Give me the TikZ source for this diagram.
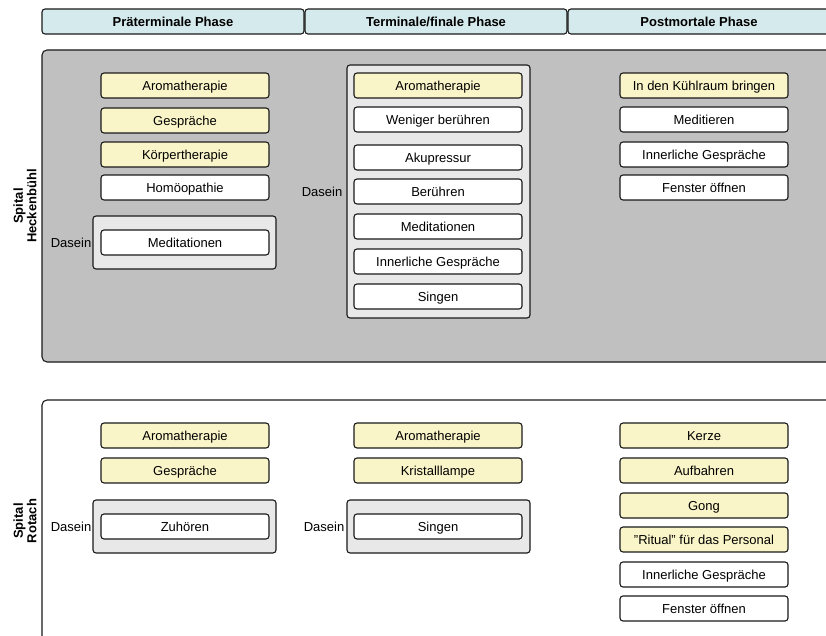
\documentclass[tikz,border=0pt]{standalone}
\usepackage{fontspec}
\setmainfont{Liberation Sans}
\definecolor{hdrfill}{HTML}{D5EAEC}
\definecolor{lanegray}{HTML}{C0C0C0}
\definecolor{grpfill}{HTML}{E8E8E8}
\definecolor{yel}{HTML}{FAF5C8}
\definecolor{edge}{HTML}{1A1A1A}
\tikzset{
  x=1pt,y=-1pt,
  every node/.style={font=\fontsize{13}{15}\selectfont},
  hdr/.style={draw=edge, line width=1.1pt, fill=hdrfill, rounded corners=3pt, minimum width=262pt, minimum height=25pt, inner sep=0pt, text height=11pt, text depth=1.7pt, font=\fontsize{13}{15}\selectfont\bfseries},
  lane/.style={draw=edge, line width=1.1pt, rounded corners=5pt},
  item/.style={draw=edge, line width=1.1pt, fill=white, rounded corners=3pt, minimum width=168pt, minimum height=25pt, inner sep=0pt, text height=11pt, text depth=1.7pt},
  yitem/.style={item, fill=yel},
  grp/.style={draw=edge, line width=1.1pt, fill=grpfill, rounded corners=3pt, inner sep=0pt},
  lbl/.style={inner sep=1pt, anchor=east, text height=11pt, text depth=1.7pt},
  lanelbl/.style={rotate=90, align=center, font=\fontsize{13}{13.5}\selectfont\bfseries}
}
\begin{document}
\begin{tikzpicture}
\useasboundingbox (0,0) rectangle (826,636);
\clip (0,0) rectangle (826,636);
% headers
\node[hdr] (h1) at (173,21.5) {Präterminale Phase};
\node[hdr] (h2) at (436,21.5) {Terminale/finale Phase};
\node[hdr] (h3) at (699,21.5) {Postmortale Phase};
% lanes
\draw[lane, fill=lanegray] (42,50) rectangle (850,362);
\draw[lane, fill=white] (42,400) rectangle (850,660);
\node[lanelbl] (l1) at (25,206) {Spital\\Heckenbühl};
\node[lanelbl] (l2) at (25,521) {Spital\\Rotach};
% lane 1, column 1
\node[yitem] (a1) at (185,85.5) {Aromatherapie};
\node[yitem] (a2) at (185,120.5) {Gespräche};
\node[yitem] (a3) at (185,154.5) {Körpertherapie};
\node[item] (a4) at (185,187.5) {Homöopathie};
\node[grp, minimum width=183pt, minimum height=53pt] (ga) at (184.5,242.5) {};
\node[item] (a5) at (185,242.5) {Meditationen};
\node[lbl] (da) at (a5.west -| ga.west) {Dasein};
% lane 1, column 2
\node[grp, minimum width=183pt, minimum height=253pt] (gb) at (438.5,191.5) {};
\node[yitem] (b1) at (438,85.5) {Aromatherapie};
\node[item] (b2) at (438,119.5) {Weniger berühren};
\node[item] (b3) at (438,157.5) {Akupressur};
\node[item] (b4) at (438,191.5) {Berühren};
\node[item] (b5) at (438,226.5) {Meditationen};
\node[item] (b6) at (438,261.5) {Innerliche Gespräche};
\node[item] (b7) at (438,296.5) {Singen};
\node[lbl, xshift=-3pt] (db) at (b4.west -| gb.west) {Dasein};
% lane 1, column 3
\node[yitem] (c1) at (704,85.5) {In den Kühlraum bringen};
\node[item] (c2) at (704,119.5) {Meditieren};
\node[item] (c3) at (704,154.5) {Innerliche Gespräche};
\node[item] (c4) at (704,187.5) {Fenster öffnen};
% lane 2, column 1
\node[yitem] (d1) at (185,435.5) {Aromatherapie};
\node[yitem] (d2) at (185,470.5) {Gespräche};
\node[grp, minimum width=183pt, minimum height=53pt] (gd) at (184.5,526.5) {};
\node[item] (d3) at (185,526.5) {Zuhören};
\node[lbl] (dd) at (d3.west -| gd.west) {Dasein};
% lane 2, column 2
\node[yitem] (e1) at (438,435.5) {Aromatherapie};
\node[yitem] (e2) at (438,470.5) {Kristalllampe};
\node[grp, minimum width=183pt, minimum height=53pt] (ge) at (438.5,526.5) {};
\node[item] (e3) at (438,526.5) {Singen};
\node[lbl, xshift=-1pt] (de) at (e3.west -| ge.west) {Dasein};
% lane 2, column 3
\node[yitem] (f1) at (704,435.5) {Kerze};
\node[yitem] (f2) at (704,470.5) {Aufbahren};
\node[yitem] (f3) at (704,505.5) {Gong};
\node[yitem] (f4) at (704,539.5) {"Ritual" für das Personal};
\node[item] (f5) at (704,574.5) {Innerliche Gespräche};
\node[item] (f6) at (704,608.5) {Fenster öffnen};
\end{tikzpicture}
\end{document}
